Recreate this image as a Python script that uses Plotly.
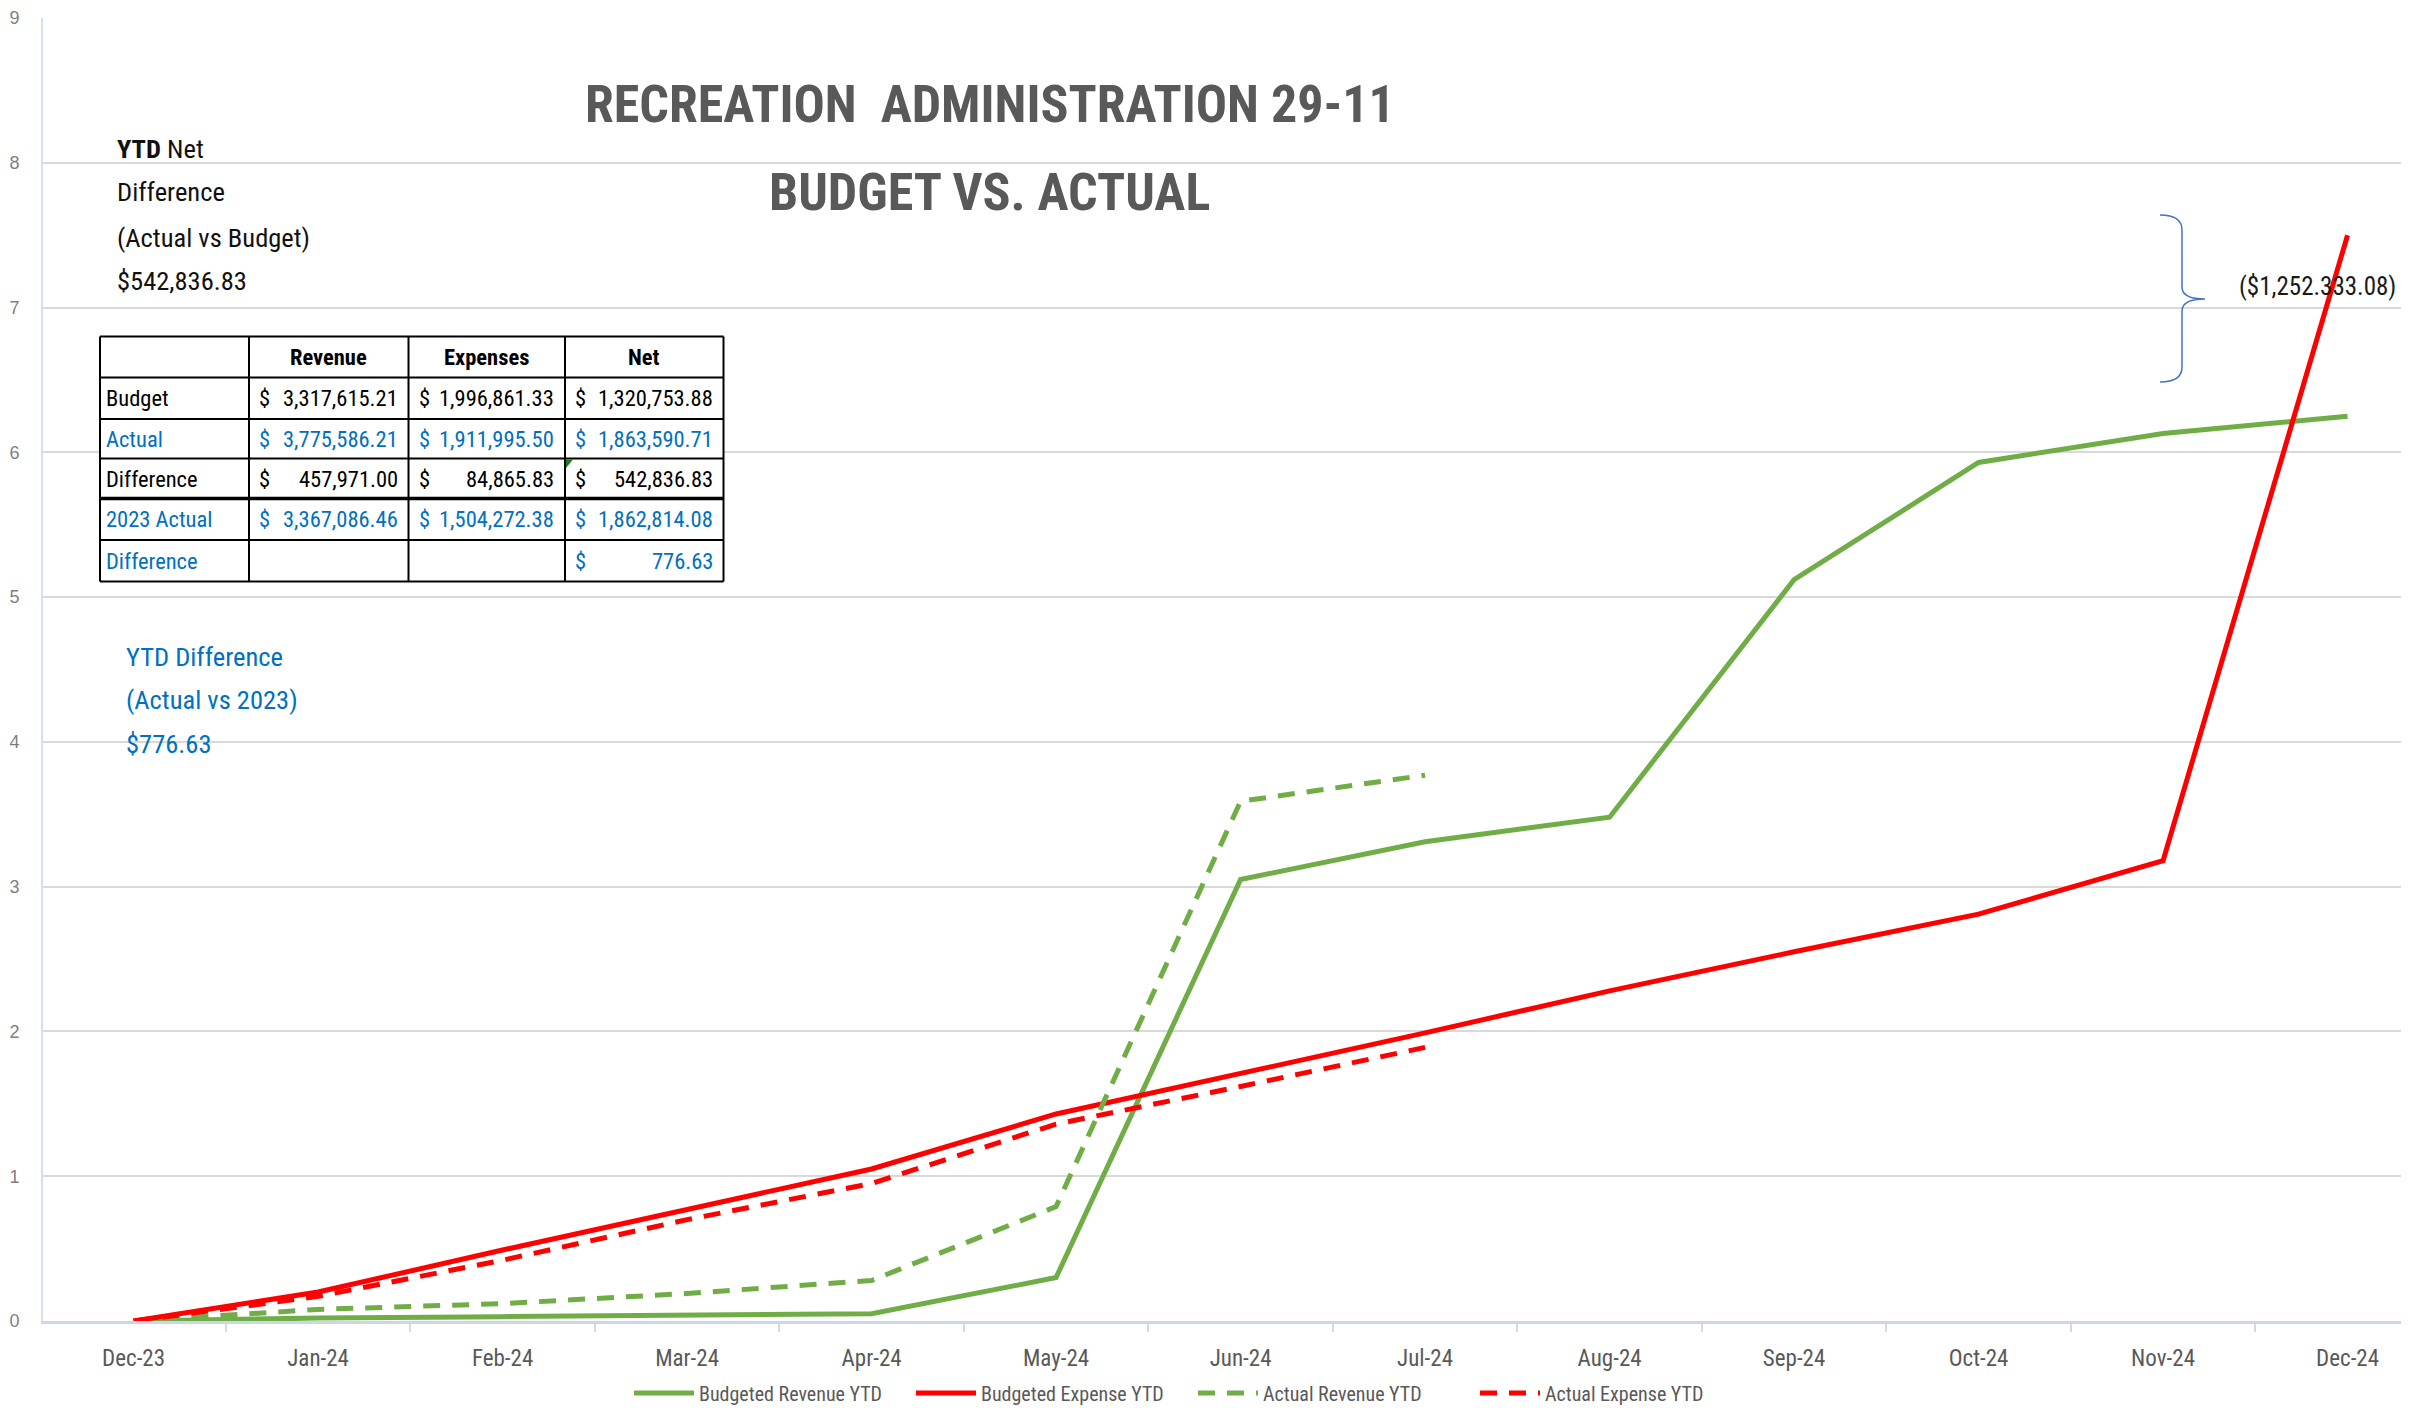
import plotly.graph_objects as go

# ---------------- data ----------------
months = ["Dec-23", "Jan-24", "Feb-24", "Mar-24", "Apr-24", "May-24", "Jun-24",
          "Jul-24", "Aug-24", "Sep-24", "Oct-24", "Nov-24", "Dec-24"]
budgeted_revenue = [0, 0.02, 0.03, 0.04, 0.05, 0.30, 3.05, 3.31, 3.48, 5.12, 5.93, 6.13, 6.25]
budgeted_expense = [0, 0.20, 0.49, 0.77, 1.05, 1.43, 1.71, 1.99, 2.28, 2.55, 2.81, 3.18, 7.50]
actual_revenue = [0, 0.08, 0.12, 0.19, 0.28, 0.79, 3.59, 3.77]
actual_expense = [0, 0.17, 0.42, 0.70, 0.95, 1.36, 1.62, 1.89]

table_header = ["", "Revenue", "Expenses", "Net"]
table_rows = ["Budget", "Actual", "Difference", "2023 Actual", "Difference"]
table_revenue = [3317615.21, 3775586.21, 457971.00, 3367086.46, None]
table_expenses = [1996861.33, 1911995.50, 84865.83, 1504272.38, None]
table_net = [1320753.88, 1863590.71, 542836.83, 1862814.08, 776.63]
table_row_blue = [False, True, False, True, True]

title_lines = ["RECREATION&nbsp; ADMINISTRATION 29-11", "BUDGET VS. ACTUAL"]
net_note = ["<b>YTD</b> Net", "Difference", "(Actual vs Budget)", "$542,836.83"]
diff_note = ["YTD Difference", "(Actual vs 2023)", "$776.63"]
bracket_label = "($1,252.333.08)"

# ---------------- geometry (page has an 8px body margin) ----------------
OFF = 8
FW, FH = 2409 - OFF, 1408 - OFF
PLOT_L, PLOT_T, PLOT_B = 43, 18, 1321          # in screenshot pixels
ML, MT = PLOT_L - OFF, PLOT_T - OFF
MR = 0
MB = FH - (PLOT_B - OFF)
PW, PH = FW - ML - MR, FH - MT - MB


def px(x):
    return (x - PLOT_L) / PW


def py(y):
    return (PLOT_B - y) / PH


FONT = "Liberation Sans Narrow, Roboto Condensed, Liberation Sans, sans-serif"
GREEN = "#70AD47"
RED = "#FF0000"
BLUE = "#0070C0"
GRAY = "#595959"

fig = go.Figure()
fig.add_trace(go.Scatter(x=months, y=budgeted_revenue, mode="lines", name="Budgeted Revenue YTD",
                         line=dict(color=GREEN, width=5)))
fig.add_trace(go.Scatter(x=months, y=budgeted_expense, mode="lines", name="Budgeted Expense YTD",
                         line=dict(color=RED, width=5)))
fig.add_trace(go.Scatter(x=months[:len(actual_revenue)], y=actual_revenue, mode="lines",
                         name="Actual Revenue YTD",
                         line=dict(color=GREEN, width=5, dash="17px,12px")))
fig.add_trace(go.Scatter(x=months[:len(actual_expense)], y=actual_expense, mode="lines",
                         name="Actual Expense YTD",
                         line=dict(color=RED, width=5, dash="17px,12px")))

ann = []
shapes = []

# Title
for t, yy in zip(title_lines, [104, 193]):
    ann.append(dict(x=px(990), y=py(yy), xref="paper", yref="paper", text="<b>%s</b>" % t,
                    showarrow=False, xanchor="center", yanchor="middle",
                    font=dict(family=FONT, size=52, color=GRAY)))

# notes
for t, yy in zip(net_note, [149, 192, 237, 280]):
    ann.append(dict(x=px(115), y=py(yy), xref="paper", yref="paper", text=t, showarrow=False,
                    xanchor="left", yanchor="middle", font=dict(family=FONT, size=26.5, color="#111111")))
for t, yy in zip(diff_note, [656, 699, 744]):
    ann.append(dict(x=px(124), y=py(yy), xref="paper", yref="paper", text=t, showarrow=False,
                    xanchor="left", yanchor="middle", font=dict(family=FONT, size=26.5, color=BLUE)))

# Table
cols = [100, 249, 408.5, 565, 723.5]
rows = [336.5, 377.5, 419, 458.5, 498.5, 540, 581.5]
shapes.append(dict(type="rect", xref="paper", yref="paper", x0=px(cols[0]), x1=px(cols[-1]),
                   y0=py(rows[0]), y1=py(rows[-1]), fillcolor="white", line=dict(width=0), layer="above"))
for i, yy in enumerate(rows):
    w = 3.5 if i == 4 else 2
    shapes.append(dict(type="line", xref="paper", yref="paper", x0=px(cols[0]), x1=px(cols[-1]),
                       y0=py(yy), y1=py(yy), line=dict(color="#000000", width=w), layer="above"))
for xx in cols:
    shapes.append(dict(type="line", xref="paper", yref="paper", x0=px(xx), x1=px(xx),
                       y0=py(rows[0]), y1=py(rows[-1]), line=dict(color="#000000", width=2), layer="above"))
# green error indicator
shapes.append(dict(type="path", xref="paper", yref="paper",
                   path="M %f %f L %f %f L %f %f Z" % (px(566), py(459.5), px(573), py(459.5), px(566), py(468)),
                   fillcolor="#1E7B1E", line=dict(width=0), layer="above"))

TFS = 22.5
for j, h in enumerate(table_header):
    if h:
        ann.append(dict(x=px((cols[j] + cols[j + 1]) / 2), y=py((rows[0] + rows[1]) / 2), xref="paper",
                        yref="paper", text="<b>%s</b>" % h, showarrow=False, xanchor="center",
                        yanchor="middle", font=dict(family=FONT, size=TFS, color="#000000")))
for i, lab in enumerate(table_rows):
    color = BLUE if table_row_blue[i] else "#000000"
    yc = py((rows[i + 1] + rows[i + 2]) / 2)
    ann.append(dict(x=px(cols[0] + 4), y=yc, xref="paper", yref="paper", text=lab, showarrow=False,
                    xanchor="left", yanchor="middle", font=dict(family=FONT, size=TFS, color=color)))
    for j, series in enumerate([table_revenue, table_expenses, table_net]):
        v = series[i]
        if v is None:
            continue
        ann.append(dict(x=px(cols[j + 1] + 8), y=yc, xref="paper", yref="paper", text="$", showarrow=False,
                        xanchor="left", yanchor="middle", font=dict(family=FONT, size=TFS, color=color)))
        ann.append(dict(x=px(cols[j + 2] - 9), y=yc, xref="paper", yref="paper", text=f"{v:,.2f}",
                        showarrow=False, xanchor="right", yanchor="middle",
                        font=dict(family=FONT, size=TFS, color=color)))

# bracket
bx0, bx1, btip = 2160, 2182, 2205
by0, bmid, by1 = 215, 299, 382
path = ("M {a} {b} Q {c} {b} {c} {d} L {c} {e} Q {c} {m} {t} {m} Q {c} {m} {c} {f} "
        "L {c} {g} Q {c} {h} {a} {h}").format(
    a=px(bx0), b=py(by0), c=px(bx1), d=py(by0 + 15), e=py(bmid - 12), m=py(bmid), t=px(btip),
    f=py(bmid + 12), g=py(by1 - 15), h=py(by1))
shapes.append(dict(type="path", xref="paper", yref="paper", path=path,
                   line=dict(color="#4472C4", width=1.5)))
ann.append(dict(x=px(2237), y=py(287), xref="paper", yref="paper", text=bracket_label, showarrow=False,
                xanchor="left", yanchor="middle", font=dict(family=FONT, size=25, color="#1a1a1a")))

fig.update_layout(
    width=FW, height=FH,
    margin=dict(l=ML, r=MR, t=MT, b=MB, autoexpand=False),
    paper_bgcolor="white", plot_bgcolor="white",
    showlegend=True,
    legend=dict(orientation="h", x=px(1193), xanchor="center", y=py(1393), yanchor="middle",
                font=dict(family=FONT, size=20, color=GRAY), bgcolor="rgba(0,0,0,0)",
                itemwidth=60, tracegroupgap=0, entrywidth=207, entrywidthmode="pixels"),
    annotations=ann, shapes=shapes,
    xaxis=dict(type="category", categoryorder="array", categoryarray=months,
               range=[-0.491, 12.333], showgrid=False, zeroline=False,
               showline=True, linecolor="#CCD6EA", linewidth=3,
               tickson="boundaries", ticks="outside", ticklen=8, tickwidth=2, tickcolor="#D9D9D9",
               tickfont=dict(family=FONT, size=23, color=GRAY), ticklabelstandoff=14),
    yaxis=dict(range=[0, 9], dtick=1, tick0=0, showgrid=True, gridcolor="#D9D9D9", gridwidth=2,
               zeroline=False, showline=True, linecolor="#D6DFF0", linewidth=2, ticks="",
               tickfont=dict(family="Liberation Sans, sans-serif", size=18, color="#7F7F7F"),
               ticklabelstandoff=18),
)

fig.write_html("out.html")
